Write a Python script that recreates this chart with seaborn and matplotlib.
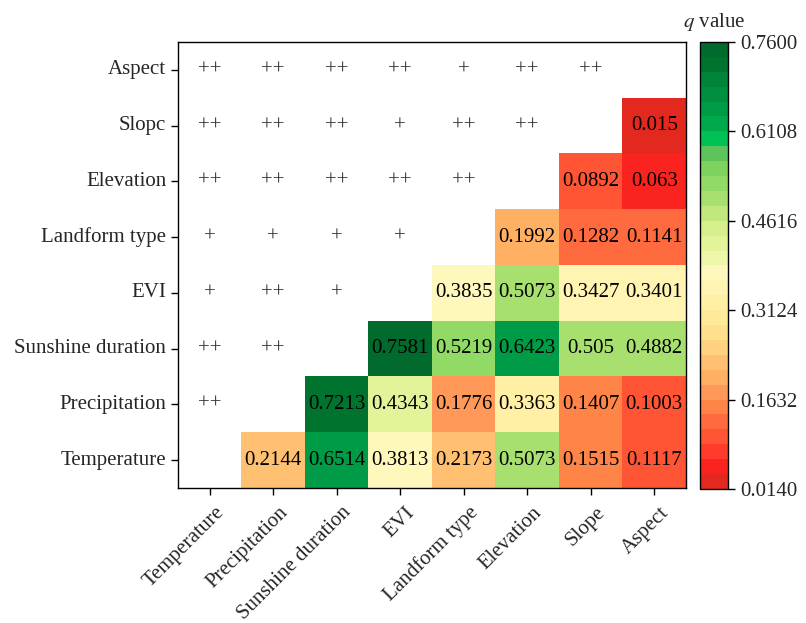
import numpy as np
import pandas as pd
import matplotlib
matplotlib.use('Agg')
import matplotlib.pyplot as plt
import matplotlib.transforms as mtransforms
import seaborn as sns
from matplotlib.colors import ListedColormap

# Factors (column order, left to right)
factors = ['Temperature', 'Precipitation', 'Sunshine duration', 'EVI',
           'Landform type', 'Elevation', 'Slope', 'Aspect']
# y tick labels as printed (top to bottom)
row_labels = ['Aspect', 'Slopc', 'Elevation', 'Landform type', 'EVI',
              'Sunshine duration', 'Precipitation', 'Temperature']

# q values of the interaction, one list per factor, for the factors to its right
q_temperature = [0.2144, 0.6514, 0.3813, 0.2173, 0.5073, 0.1515, 0.1117]
q_precipitation = [0.7213, 0.4343, 0.1776, 0.3363, 0.1407, 0.1003]
q_sunshine = [0.7581, 0.5219, 0.6423, 0.505, 0.4882]
q_evi = [0.3835, 0.5073, 0.3427, 0.3401]
q_landform = [0.1992, 0.1282, 0.1141]
q_elevation = [0.0892, 0.063]
q_slope = [0.015]

# enhancement type marks, one list per factor, for the factors to its left
mark_precipitation = ['++']
mark_sunshine = ['++', '++']
mark_evi = ['+', '++', '+']
mark_landform = ['+', '+', '+', '+']
mark_elevation = ['++', '++', '++', '++', '++']
mark_slope = ['++', '++', '++', '+', '++', '++']
mark_aspect = ['++', '++', '++', '++', '+', '++', '++']

q_rows = [q_temperature, q_precipitation, q_sunshine, q_evi,
          q_landform, q_elevation, q_slope, []]
mark_rows = [[], mark_precipitation, mark_sunshine, mark_evi,
             mark_landform, mark_elevation, mark_slope, mark_aspect]

q_min, q_max = 0.0140, 0.7600

# 30 step colour scale, red -> yellow -> green
band_colors = [
    '#e2281f', '#fb2320', '#ff3b2b', '#ff5535', '#ff6a3e', '#ff8448',
    '#ff9858', '#ffb062', '#ffc072', '#ffd27f', '#ffe08c', '#ffea9a',
    '#fff0a6', '#fff4b1', '#fff8bd', '#eef6aa', '#e2f39a', '#d5ef8c',
    '#c0e87c', '#a8e070', '#92da66', '#7dd35e', '#5cc45a', '#00c153',
    '#00aa4c', '#009b46', '#008f3f', '#008439', '#00742f', '#006b2d',
]
cmap = ListedColormap(band_colors)

n = len(factors)
mat = np.full((n, n), np.nan)
for i, vals in enumerate(q_rows):
    for k, v in enumerate(vals):
        mat[i, i + 1 + k] = v
df = pd.DataFrame(mat, index=factors, columns=factors).iloc[::-1]

sns.set_style('white')
plt.rcParams['font.family'] = ['Liberation Serif', 'DejaVu Serif']
plt.rcParams['mathtext.fontset'] = 'stix'

fig = plt.figure(figsize=(8.06, 6.23), dpi=100)
ax = fig.add_axes([0.2208, 0.2167, 0.6303, 0.7159])
cax = fig.add_axes([0.8685, 0.2151, 0.0347, 0.7175])

sns.heatmap(df, ax=ax, cmap=cmap, vmin=q_min, vmax=q_max, annot=True,
            fmt='.4g', annot_kws={'fontsize': 15, 'color': 'black'},
            cbar_ax=cax, linewidths=0, square=False)

# marks in the upper-left triangle
for i, marks in enumerate(mark_rows):
    for j, m in enumerate(marks):
        ax.text(j + 0.5, (n - 1 - i) + 0.5, m, ha='center', va='center',
                fontsize=15, color='#2e2e2e')

ax.set_xlabel('')
ax.set_ylabel('')
ax.set_yticklabels(row_labels, rotation=0, fontsize=15)
ax.set_xticklabels([])
# rotated x labels, set a bit right of and below each tick
shift = mtransforms.ScaledTranslation(0.05, -0.15, fig.dpi_scale_trans)
for j, name in enumerate(factors):
    ax.text(j + 0.5, 0, name, transform=ax.get_xaxis_transform() + shift,
            rotation=45, ha='right', va='top', rotation_mode='anchor',
            fontsize=15)
ax.tick_params(axis='both', which='both', direction='out', length=5,
               width=1, color='black', left=True, bottom=True)
for s in ax.spines.values():
    s.set_visible(True)
    s.set_color('black')
    s.set_linewidth(1)

cbar = ax.collections[0].colorbar
cbar.set_ticks(np.linspace(q_min, q_max, 6))
cbar.set_ticklabels([f'{t:.4f}' for t in np.linspace(q_min, q_max, 6)])
cbar.ax.tick_params(labelsize=15, length=5, width=1, color='black')
cbar.outline.set_visible(True)
cbar.outline.set_edgecolor('black')
cbar.outline.set_linewidth(1)
cax.set_title('$q$ value', fontsize=15, pad=11)

fig.savefig('out.png', dpi=100)
